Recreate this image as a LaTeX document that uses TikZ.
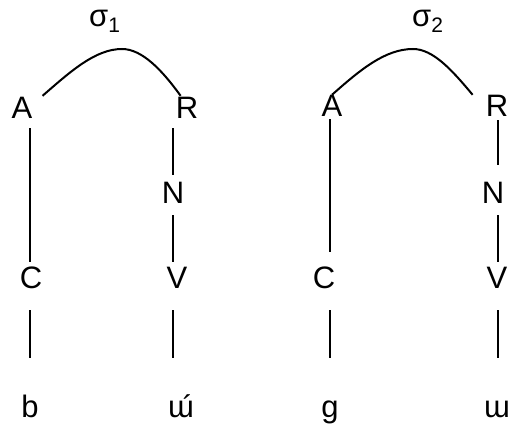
\documentclass[tikz,border=0pt]{standalone}
\usepackage{fontspec}
\setmainfont{Liberation Sans}
\begin{document}
\begin{tikzpicture}[x=1pt,y=-1pt,
  letter/.style={inner sep=0pt,text height=22pt,text depth=0pt,anchor=base,font=\fontsize{31}{31}\selectfont},
  sig/.style={inner sep=0pt,anchor=base west,font=\fontsize{31}{31}\selectfont},
  link/.style={line width=2pt,black},
  arc/.style={line width=2pt,black}]
\useasboundingbox (0,0) rectangle (516,425);
% column coordinates
\coordinate (x1) at (30,0);
\coordinate (x2) at (173,0);
\coordinate (x3) at (330,0);
\coordinate (x4) at (498,0);
% syllable labels
\node[sig] (s1) at (89,27) {σ{\fontsize{21}{21}\selectfont\raisebox{-6pt}{1}}};
\node[sig] (s2) at (412,27) {σ{\fontsize{21}{21}\selectfont\raisebox{-6pt}{2}}};
% first syllable
\node[letter] (A1) at (22,118) {A};
\node[letter] (R1) at (187,118) {R};
\node[letter] (N1) at (173,203) {N};
\node[letter] (C1) at (31,288) {C};
\node[letter] (V1) at (177,288) {V};
\node[letter] (b1) at (30,417) {b};
\node[letter] (w1) at (181,417) {ɯ\llap{´\kern1pt}};
% second syllable
\node[letter] (A2) at (332,117) {A};
\node[letter] (R2) at (497,117) {R};
\node[letter] (N2) at (493,203) {N};
\node[letter] (C2) at (324,288) {C};
\node[letter] (V2) at (497,288) {V};
\node[letter] (g2) at (330,417) {g};
\node[letter] (w2) at (497,417) {ɯ};
% arcs
\draw[arc] ([xshift=10pt]A1.north east) .. controls (70,72) and (95,49) .. (122,49)
  .. controls (142,49) and (162,70) .. ([xshift=5pt]R1.north west);
\draw[arc] (A2.north) .. controls (360,70) and (385,49) .. (413,49)
  .. controls (433,49) and (452,70) .. ([xshift=-13pt]R2.north west);
% vertical links, syllable 1
\draw[link,shorten <=10pt,shorten >=4pt] (A1.south -| x1) -- (C1.north -| x1);
\draw[link,shorten <=10pt,shorten >=6pt] (R1.south -| x2) -- (N1.north -| x2);
\draw[link,shorten <=12pt,shorten >=4pt] (N1.south -| x2) -- (V1.north -| x2);
\draw[link,shorten <=22pt,shorten >=37pt] (C1.south -| x1) -- (b1.north -| x1);
\draw[link,shorten <=22pt,shorten >=37pt] (V1.south -| x2) -- (w1.north -| x2);
% vertical links, syllable 2
\draw[link,shorten <=2pt,shorten >=14pt] (A2.south -| x3) -- (C2.north -| x3);
\draw[link,shorten <=3pt,shorten >=16pt] (R2.south -| x4) -- (N2.north -| x4);
\draw[link,shorten <=12pt,shorten >=4pt] (N2.south -| x4) -- (V2.north -| x4);
\draw[link,shorten <=22pt,shorten >=37pt] (C2.south -| x3) -- (g2.north -| x3);
\draw[link,shorten <=22pt,shorten >=37pt] (V2.south -| x4) -- (w2.north -| x4);
\end{tikzpicture}
\end{document}
